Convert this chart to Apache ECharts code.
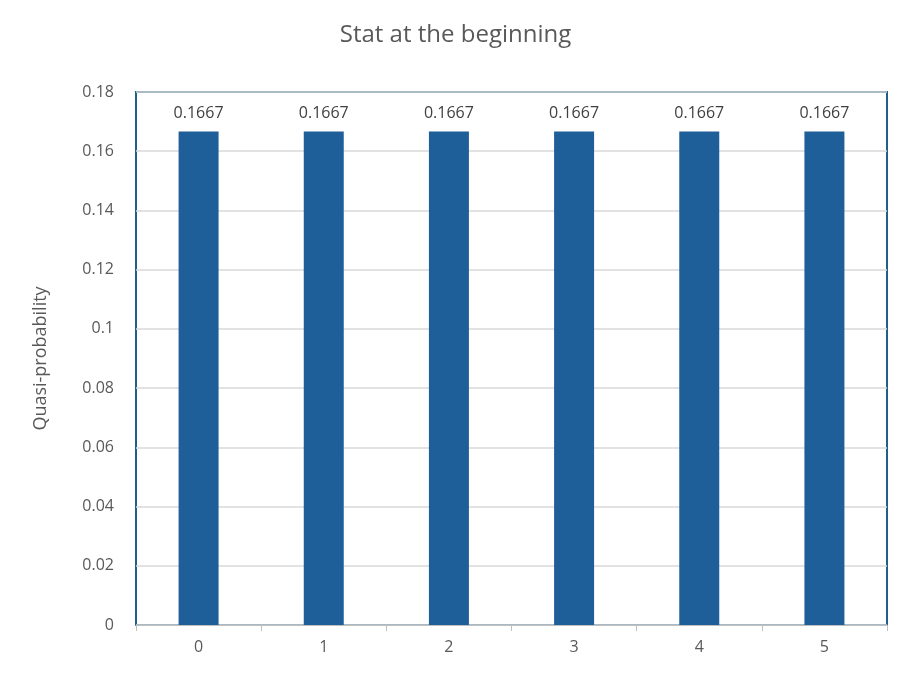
<!DOCTYPE html>
<html><head><meta charset="utf-8">
<script src="https://cdn.jsdelivr.net/npm/echarts@6/dist/echarts.min.js"></script>
<style>html,body{margin:0;padding:0;background:#fff}#c{width:911px;height:684px}</style>
</head><body><div id="c"></div>
<script>
const categories = ['0','1','2','3','4','5'];
const values = [0.1667,0.1667,0.1667,0.1667,0.1667,0.1667];
const chart = echarts.init(document.getElementById('c'));
chart.setOption({
  animation:false,
  title:{text:'Stat at the beginning',left:'center',top:18,textStyle:{fontFamily:'Open Sans',fontSize:24,fontWeight:'normal',color:'#595959'}},
  grid:{left:136,right:24,top:92,bottom:59,show:true,borderColor:'#1f5f8b',borderWidth:2},
  xAxis:{type:'category',data:categories,axisLine:{lineStyle:{color:'#bfbfbf',width:1}},
    axisTick:{show:true,alignWithLabel:false,lineStyle:{color:'#bfbfbf'},length:6},
    axisLabel:{fontFamily:'Open Sans',fontSize:16,color:'#595959',margin:14}},
  yAxis:{type:'value',min:0,max:0.18,interval:0.02,name:'Quasi-probability',nameLocation:'middle',nameGap:86,
    nameTextStyle:{fontFamily:'Open Sans',fontSize:18,color:'#595959'},
    axisLabel:{fontFamily:'Open Sans',fontSize:16,color:'#595959',margin:22,formatter:v=>String(+v.toFixed(2))},
    splitLine:{lineStyle:{color:'#d9d9d9',width:1.5}},axisLine:{show:false}},
  series:[{type:'bar',data:values,barWidth:40,itemStyle:{color:'#1f5f99'},
    label:{show:true,position:'top',distance:10,fontFamily:'Open Sans',fontSize:16,color:'#404040',formatter:p=>p.value.toFixed(4)}}]
});
</script></body></html>
